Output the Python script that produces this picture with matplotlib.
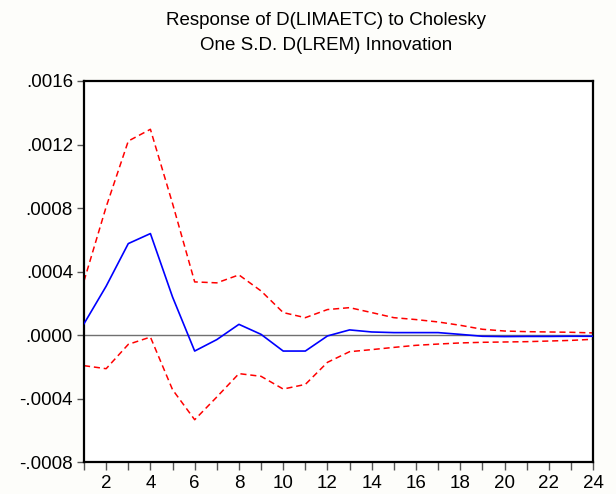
import numpy as np
import matplotlib
matplotlib.use('Agg')
import matplotlib.pyplot as plt
from matplotlib.ticker import FixedLocator, FuncFormatter

# impulse response, periods 1..24
periods = np.arange(1, 25)
response = [0.000073, 0.000309, 0.000577, 0.000640, 0.000241, -0.000099,
            -0.000027, 0.000069, 0.000006, -0.000099, -0.000099, -0.000004,
            0.000034, 0.000021, 0.000017, 0.000017, 0.000017, 0.000006,
            -0.000006, -0.000008, -0.000007, -0.000007, -0.000006, -0.000006]
upper = [0.000342, 0.000808, 0.001222, 0.001296, 0.000829, 0.000336,
         0.000330, 0.000380, 0.000279, 0.000143, 0.000111, 0.000162,
         0.000174, 0.000143, 0.000111, 0.000099, 0.000084, 0.000063,
         0.000038, 0.000027, 0.000023, 0.000021, 0.000019, 0.000015]
lower = [-0.000191, -0.000210, -0.000057, -0.000011, -0.000342, -0.000531,
         -0.000388, -0.000241, -0.000258, -0.000338, -0.000309, -0.000170,
         -0.000103, -0.000090, -0.000076, -0.000063, -0.000055, -0.000048,
         -0.000044, -0.000042, -0.000040, -0.000036, -0.000032, -0.000025]
yticks = [-0.0008, -0.0004, 0.0, 0.0004, 0.0008, 0.0012, 0.0016]

FONT = ['Liberation Sans', 'DejaVu Sans']
FS = 13.5

fig = plt.figure(figsize=(6.16, 4.94), dpi=100, facecolor='#fdfdfa')
ax = fig.add_axes([0.1364, 0.0638, 0.8263, 0.7723])
ax.set_facecolor('white')

ax.axhline(0.0, color='#707070', lw=1.0, zorder=1)
ax.plot(periods, upper, color='red', lw=1.1, ls=(0, (4, 2.5)), zorder=2)
ax.plot(periods, lower, color='red', lw=1.1, ls=(0, (4, 2.5)), zorder=2)
ax.plot(periods, response, color='blue', lw=1.2, zorder=3)

ax.set_xlim(1, 24)
ax.set_ylim(-0.0008, 0.0016)
ax.xaxis.set_major_locator(FixedLocator(range(1, 25)))
ax.xaxis.set_major_formatter(FuncFormatter(lambda v, p: f'{int(v)}' if int(v) % 2 == 0 else ''))
ax.yaxis.set_major_locator(FixedLocator(yticks))
ax.yaxis.set_major_formatter(FuncFormatter(
    lambda v, p: ('-' if v < -1e-12 else '') + f'{abs(v):.4f}'.lstrip('0')))

for s in ax.spines.values():
    s.set_color('black')
    s.set_linewidth(1.6)
ax.tick_params(axis='x', direction='out', length=6, width=1.0, color='#555555',
               labelsize=FS, pad=3)
ax.tick_params(axis='y', direction='out', length=5, width=1.0, color='#555555',
               labelsize=FS, pad=3)
for lab in ax.get_xticklabels() + ax.get_yticklabels():
    lab.set_family(FONT)

fig.text(0.529, 0.950, 'Response of D(LIMAETC) to Cholesky', ha='center', va='baseline',
         fontsize=FS, family=FONT)
fig.text(0.529, 0.899, 'One S.D. D(LREM) Innovation', ha='center', va='baseline',
         fontsize=FS, family=FONT)

fig.savefig('out.png', dpi=100, facecolor=fig.get_facecolor())
